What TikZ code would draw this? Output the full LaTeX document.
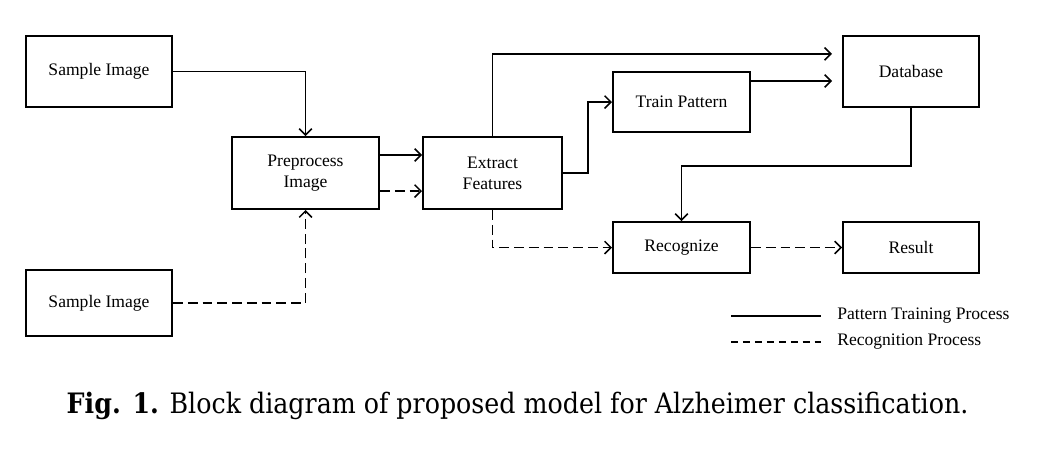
\documentclass[tikz,border=0pt]{standalone}
\usepackage{fontspec}
\usepackage{tikz}
\usetikzlibrary{arrows.meta, positioning}
\newfontfamily\boxfont{Liberation Serif}
\newfontfamily\captfont{DejaVu Serif Condensed}
\tikzset{
  blk/.style={draw, line width=1.4pt, inner sep=2pt, align=center,
    font=\boxfont\fontsize{12.5}{15}\selectfont},
  flow/.style={line width=1.25pt, -{Straight Barb[length=4.5pt, width=9pt, line width=1.1pt]}},
  recog/.style={flow, dash pattern=on 7pt off 3.5pt},
  legtext/.style={anchor=west, inner sep=0pt, font=\boxfont\fontsize{12.5}{15}\selectfont}
}

\begin{document}
\begin{tikzpicture}[x=0.025cm, y=-0.025cm]
  \useasboundingbox (0,0) rectangle (1038,450);
  % blocos
  \node[blk, minimum width=3.65cm, minimum height=1.775cm] (samp1) at (99,71.5) {Sample Image};
  \node[blk, minimum width=3.65cm, minimum height=1.65cm] (samp2) at (99,303) {Sample Image};
  \node[blk, minimum width=3.675cm, minimum height=1.8cm] (prep) at (305.5,173) {Preprocess\\Image};
  \node[blk, minimum width=3.475cm, minimum height=1.8cm] (extr) at (492.5,173) {Extract\\Features};
  \node[blk, minimum width=3.425cm, minimum height=1.5cm] (train) at (681.5,102) {Train Pattern};
  \node[blk, minimum width=3.4cm, minimum height=1.775cm] (dbase) at (911,71.5) {Database};
  \node[blk, minimum width=3.425cm, minimum height=1.275cm] (recog) at (681.5,247.5) {Recognize};
  \node[blk, minimum width=3.4cm, minimum height=1.275cm] (res) at (911,247.5) {Result};
  % treino
  \draw[flow] (samp1.east) -| (prep.north);
  \draw[flow] ([yshift=0.45cm]prep.east) -- ([yshift=0.45cm]extr.west);
  \draw[flow, shorten >=2.5mm] (extr.north) |- ([yshift=0.44cm]dbase.west);
  \draw[flow] (extr.east) -- ++(25,0) |- (train.west);
  \draw[flow, shorten >=2.5mm] ([yshift=0.525cm]train.east) -- ([yshift=0.525cm]train.east -| dbase.west);
  \draw[flow] (dbase.south) -- ++(0,58) -| (recog.north);
  % reconhecimento
  \draw[recog] (samp2.east) -| (prep.south);
  \draw[recog] ([yshift=-0.45cm]prep.east) -- ([yshift=-0.45cm]extr.west);
  \draw[recog] (extr.south) |- (recog.west);
  \draw[recog] (recog.east) -- (res.west);
  % legenda
  \coordinate (leg1a) at (731,316);
  \coordinate (leg1b) at (821,316);
  \coordinate (leg2a) at (731,342);
  \coordinate (leg2b) at (821,342);
  \draw[line width=1.1pt] (leg1a) -- (leg1b);
  \draw[line width=1.1pt, dash pattern=on 5pt off 3.5pt] (leg2a) -- (leg2b);
  \node[legtext] (leg1t) at (837,316) {Pattern Training Process};
  \node[legtext] (leg2t) at (837,342) {Recognition Process};
  % legenda da figura
  \node[font=\captfont\fontsize{20}{24}\selectfont, inner sep=0pt, anchor=base] (capt) at (517.5,413)
    {\textbf{Fig. 1.} Block diagram of proposed model for Alzheimer classification.};
\end{tikzpicture}
\end{document}
